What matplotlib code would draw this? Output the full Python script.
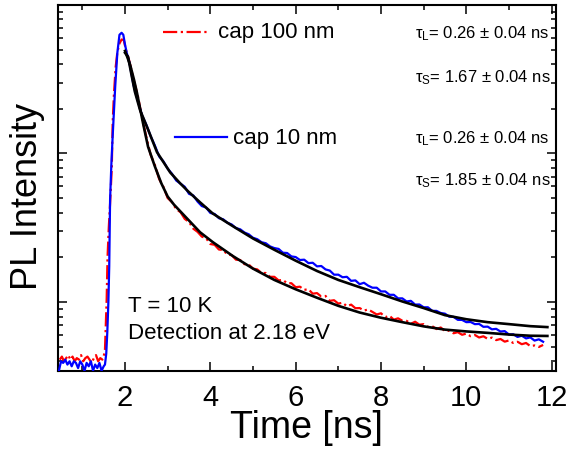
# -*- coding: utf-8 -*-

import numpy as np
import matplotlib
matplotlib.use('Agg')
import matplotlib.pyplot as plt
from matplotlib.ticker import LogLocator, NullFormatter, MultipleLocator
from matplotlib.lines import Line2D

plt.rcParams['font.family'] = ['Liberation Sans', 'DejaVu Sans']
plt.rcParams['mathtext.fontset'] = 'custom'
plt.rcParams['mathtext.rm'] = 'Liberation Sans'
plt.rcParams['mathtext.it'] = 'Liberation Sans'


''' data read off the picture '''

# cap 10 nm: background + rise + peak
t_early_10 = [0.45, 0.50, 0.55, 0.60, 0.65, 0.70, 0.75, 0.80, 0.85, 0.90, 0.95,
              1.00, 1.05, 1.10, 1.15, 1.20, 1.25, 1.30, 1.35, 1.40, 1.45, 1.50,
              1.53, 1.56, 1.585, 1.61, 1.63, 1.65, 1.68, 1.71, 1.77, 1.82,
              1.87, 1.92, 1.96, 2.00, 2.04]
pl_early_10 = [0.345, 0.40, 0.39, 0.41, 0.38, 0.40, 0.37, 0.40, 0.39, 0.36, 0.40,
               0.38, 0.345, 0.39, 0.37, 0.40, 0.345, 0.38, 0.36, 0.39, 0.345, 0.37,
               0.38, 0.45, 0.63, 1.0, 1.74, 4.9, 8.5, 13.0, 28.2, 47.6,
               62.9, 64.9, 62.9, 54.0, 47.6]

# cap 100 nm: background + rise + peak
t_early_100 = [0.47, 0.52, 0.57, 0.62, 0.67, 0.72, 0.77, 0.82, 0.87, 0.92, 0.97,
               1.02, 1.07, 1.12, 1.17, 1.22, 1.27, 1.32, 1.37, 1.42, 1.47,
               1.50, 1.53, 1.55, 1.57, 1.59, 1.62, 1.65, 1.69, 1.71, 1.74,
               1.78, 1.82, 1.87, 1.92, 1.97, 2.02]
pl_early_100 = [0.41, 0.43, 0.40, 0.42, 0.44, 0.41, 0.43, 0.40, 0.42, 0.41, 0.44,
                0.40, 0.42, 0.43, 0.41, 0.39, 0.42, 0.44, 0.40, 0.42, 0.41,
                0.43, 0.48, 0.70, 1.05, 2.0, 3.2, 4.6, 8.0, 16.0, 25.0,
                38.0, 48.0, 55.0, 58.5, 58.0, 50.0]

# decay part (both samples)
t_decay = [2.1, 2.2, 2.3, 2.4, 2.5, 2.6, 2.7, 2.8, 2.9, 3.0,
           3.1, 3.2, 3.3, 3.4, 3.5, 3.6, 3.7, 3.8, 3.9, 4.0,
           4.1, 4.2, 4.3, 4.4, 4.5, 4.6, 4.7, 4.8, 4.9, 5.0,
           5.1, 5.2, 5.3, 5.4, 5.5, 5.6, 5.7, 5.8, 5.9, 6.0,
           6.1, 6.2, 6.3, 6.4, 6.5, 6.6, 6.7, 6.8, 6.9, 7.0,
           7.1, 7.2, 7.3, 7.4, 7.5, 7.6, 7.7, 7.8, 7.9, 8.0,
           8.1, 8.2, 8.3, 8.4, 8.5, 8.6, 8.7, 8.8, 8.9, 9.0,
           9.1, 9.2, 9.3, 9.4, 9.5, 9.6, 9.7, 9.8, 9.9, 10.0,
           10.1, 10.2, 10.3, 10.4, 10.5, 10.6, 10.7, 10.8, 10.9, 11.0,
           11.1, 11.2, 11.3, 11.4, 11.5, 11.6, 11.7, 11.8]

pl_decay_10 = [41.3, 28.8, 22.6, 18.0, 15.6, 13.1, 11.3, 9.55, 8.85, 7.91,
               7.31, 6.58, 6.27, 5.97, 5.35, 5.22, 4.75, 4.43, 4.33, 3.98,
               3.92, 3.67, 3.61, 3.42, 3.33, 3.15, 3.09, 2.94, 2.86, 2.71,
               2.65, 2.53, 2.49, 2.37, 2.31, 2.28, 2.15, 2.14, 2.03, 2.01,
               1.92, 1.93, 1.83, 1.84, 1.74, 1.75, 1.66, 1.63, 1.53, 1.53,
               1.47, 1.48, 1.39, 1.40, 1.32, 1.35, 1.29, 1.25, 1.25, 1.18,
               1.18, 1.12, 1.12, 1.06, 1.06, 1.01, 1.02, 0.962, 0.964, 0.923,
               0.923, 0.873, 0.873, 0.845, 0.836, 0.798, 0.796, 0.760, 0.759, 0.733,
               0.735, 0.711, 0.713, 0.682, 0.684, 0.656, 0.661, 0.634, 0.638, 0.605,
               0.608, 0.583, 0.594, 0.570, 0.579, 0.551, 0.562, 0.541]

pl_decay_100 = [42.0, 31.5, 24.5, 17.3, 12.9, 9.82, 8.37, 6.73, 5.96, 5.01,
                4.71, 4.22, 4.03, 3.63, 3.46, 3.12, 2.97, 2.76, 2.69, 2.46,
                2.43, 2.26, 2.24, 2.09, 2.07, 1.93, 1.92, 1.80, 1.79, 1.68,
                1.66, 1.57, 1.57, 1.48, 1.48, 1.40, 1.41, 1.34, 1.34, 1.26,
                1.27, 1.21, 1.22, 1.14, 1.15, 1.09, 1.10, 1.02, 1.03, 0.977,
                0.991, 0.938, 0.962, 0.910, 0.912, 0.877, 0.893, 0.859, 0.826, 0.841,
                0.792, 0.809, 0.762, 0.778, 0.750, 0.748, 0.715, 0.738, 0.705, 0.711,
                0.681, 0.689, 0.659, 0.675, 0.638, 0.643, 0.617, 0.628, 0.603, 0.614,
                0.590, 0.601, 0.578, 0.589, 0.566, 0.577, 0.555, 0.565, 0.542, 0.552,
                0.531, 0.541, 0.521, 0.531, 0.506, 0.511, 0.499, 0.515]

# biexponential fits (black)
t_fit_10 = [2.00, 2.07, 2.16, 2.23, 2.35, 2.54, 2.75, 3.06, 3.29, 3.48, 3.76, 4.06,
            4.53, 5.0, 5.5, 6.0, 6.5, 7.0, 7.5, 8.0, 8.5, 9.0, 9.5, 10.0, 10.5,
            11.0, 11.5, 11.9]
fit_10 = [47.6, 44.8, 32.9, 26.1, 19.7, 14.5, 10.2, 7.45, 6.31, 5.56, 4.69, 3.94,
          3.24, 2.68, 2.25, 1.90, 1.62, 1.41, 1.26, 1.13, 1.01, 0.912, 0.817, 0.767,
          0.733, 0.711, 0.689, 0.679]

t_fit_100 = [2.00, 2.12, 2.21, 2.28, 2.42, 2.54, 2.70, 2.85, 3.00, 3.15, 3.30, 3.76,
             4.06, 4.53, 5.0, 5.5, 6.0, 6.5, 7.0, 7.5, 8.0, 8.5, 9.0, 9.5, 10.0,
             10.5, 11.0, 11.5, 11.9]
fit_100 = [49.0, 39.5, 31.4, 25.6, 16.1, 11.1, 8.18, 6.31, 5.13, 4.52, 4.07, 2.95,
           2.53, 2.04, 1.68, 1.41, 1.22, 1.07, 0.944, 0.851, 0.785, 0.733, 0.687,
           0.653, 0.635, 0.621, 0.605, 0.594, 0.592]


t_10 = np.concatenate([t_early_10, t_decay])
pl_10 = np.concatenate([pl_early_10, pl_decay_10])
t_100 = np.concatenate([t_early_100, t_decay])
pl_100 = np.concatenate([pl_early_100, pl_decay_100])


fig = plt.figure(figsize=(5.69, 4.52), dpi=100)
ax = fig.add_axes([0.102, 0.177, 0.875, 0.810])

ax.plot(t_100, pl_100, color='red', ls='-.', lw=1.6, zorder=2)
ax.plot(t_10, pl_10, color='blue', ls='-', lw=1.6, zorder=3)
ax.plot(t_fit_100, fit_100, color='black', lw=1.9, zorder=4)
ax.plot(t_fit_10, fit_10, color='black', lw=1.9, zorder=4)

ax.set_yscale('log')
ax.set_xlim(0.43, 12.1)
ax.set_ylim(0.344, 100)

ax.xaxis.set_major_locator(MultipleLocator(2))
ax.xaxis.set_minor_locator(MultipleLocator(1))
ax.yaxis.set_major_locator(LogLocator(base=10))
ax.yaxis.set_minor_locator(LogLocator(base=10, subs=np.arange(2, 10)))
ax.yaxis.set_major_formatter(NullFormatter())
ax.yaxis.set_minor_formatter(NullFormatter())

ax.tick_params(which='both', direction='in', top=True, right=True, width=1.1)
ax.tick_params(which='major', length=6.5, labelsize=21, pad=9)
ax.tick_params(which='minor', length=3.3)
for s in ax.spines.values():
    s.set_linewidth(1.5)

ax.set_xlabel('Time [ns]', fontsize=27)
ax.set_ylabel('PL Intensity', fontsize=26)
ax.xaxis.set_label_coords(0.498, -0.105)
ax.yaxis.set_label_coords(-0.026, 0.48)

# legend, drawn by hand
tau_x = 0.716
tau_fs = 12

ax.add_line(Line2D([0.211, 0.305], [0.926, 0.926], transform=ax.transAxes,
                   color='red', ls='-.', lw=1.6))
ax.text(0.321, 0.926, 'cap 100 nm', transform=ax.transAxes, fontsize=16, va='center')
ax.text(tau_x, 0.923, r'$\tau_{\rm L}$= 0.26 ± 0.04 ns', transform=ax.transAxes,
        fontsize=tau_fs, va='center')
ax.text(tau_x, 0.803, r'$\tau_{\rm S}$= 1.67 ± 0.04 ns', transform=ax.transAxes,
        fontsize=tau_fs, va='center')

ax.add_line(Line2D([0.235, 0.339], [0.639, 0.639], transform=ax.transAxes,
                   color='blue', ls='-', lw=1.6))
ax.text(0.351, 0.639, 'cap 10 nm', transform=ax.transAxes, fontsize=16, va='center')
ax.text(tau_x, 0.636, r'$\tau_{\rm L}$= 0.26 ± 0.04 ns', transform=ax.transAxes,
        fontsize=tau_fs, va='center')
ax.text(tau_x, 0.522, r'$\tau_{\rm S}$= 1.85 ± 0.04 ns', transform=ax.transAxes,
        fontsize=tau_fs, va='center')

ax.text(0.141, 0.178, 'T = 10 K', transform=ax.transAxes, fontsize=16, va='center')
ax.text(0.141, 0.104, 'Detection at 2.18 eV', transform=ax.transAxes, fontsize=16,
        va='center')

plt.savefig('out.png', dpi=100)
